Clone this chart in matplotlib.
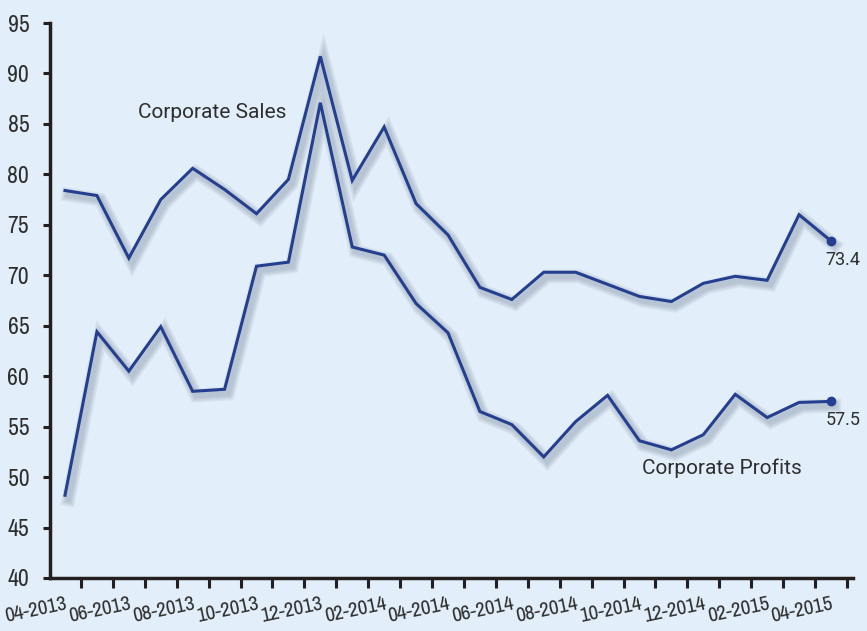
import matplotlib.pyplot as plt
import matplotlib.patheffects as pe
import matplotlib.font_manager as fm
import numpy as np

months = ['04-2013', '05-2013', '06-2013', '07-2013', '08-2013', '09-2013', '10-2013',
          '11-2013', '12-2013', '01-2014', '02-2014', '03-2014', '04-2014', '05-2014',
          '06-2014', '07-2014', '08-2014', '09-2014', '10-2014', '11-2014', '12-2014',
          '01-2015', '02-2015', '03-2015', '04-2015']
sales = [78.4, 77.9, 71.7, 77.5, 80.6, 78.5, 76.1, 79.5, 91.7, 79.4, 84.7, 77.1, 74.0,
         68.8, 67.6, 70.3, 70.3, 69.1, 67.9, 67.4, 69.2, 69.9, 69.5, 76.0, 73.4]
profits = [48.2, 64.4, 60.5, 64.9, 58.5, 58.7, 70.9, 71.3, 87.1, 72.8, 72.0, 67.2, 64.3,
           56.5, 55.2, 52.0, 55.5, 58.1, 53.6, 52.7, 54.2, 58.2, 55.9, 57.4, 57.5]
yticks = [40, 45, 50, 55, 60, 65, 70, 75, 80, 85, 90, 95]

bg = '#e2eef9'
navy = '#243f8f'
ink = '#231f20'
txt = '#2e2e2e'

# pick a narrow font for the axis labels, if one is installed
narrow = None
for f in fm.fontManager.ttflist:
    if 'Narrow' in f.name and f.weight in (400, 'normal', 'regular') and f.style == 'normal':
        narrow = f.fname
        break
if narrow is None:
    for f in fm.fontManager.ttflist:
        if 'Condensed' in f.fname and 'Bold' not in f.fname and 'Oblique' not in f.fname \
                and 'Sans' in f.name and 'Mono' not in f.name:
            narrow = f.fname
            break
tick_font = fm.FontProperties(fname=narrow) if narrow else fm.FontProperties(family='DejaVu Sans')

fig = plt.figure(figsize=(8.67, 6.31), dpi=100, facecolor=bg)
ax = fig.add_axes([50/867, 1-578/631, 803/867, 555/631], facecolor=bg)

x = np.arange(len(months))
shadow = [pe.SimpleLineShadow(offset=(2.5, -3), shadow_color='#40506a', alpha=0.07, linewidth=w)
          for w in (10, 8, 6, 4)] + [pe.Normal()]

for series in (sales, profits):
    ax.plot(x, series, color=navy, lw=2.2, solid_joinstyle='miter', path_effects=shadow, zorder=3)
    ax.plot(x[-1], series[-1], 'o', color=navy, ms=6, zorder=4)
    ax.annotate(f'{series[-1]:.1f}', (x[-1], series[-1]), xytext=(-4, -7), textcoords='offset points',
                ha='left', va='top', fontsize=13, color=txt, family='Roboto')

ax.text(4.6, 86.1, 'Corporate Sales', ha='center', va='center', fontsize=15, color=txt, family='Roboto')
ax.text(20.57, 50.9, 'Corporate Profits', ha='center', va='center', fontsize=15, color=txt, family='Roboto')

ax.set_xlim(-0.47, 24.69)
ax.set_ylim(40, 95)
ax.set_yticks(yticks)
ax.set_yticklabels([str(v) for v in yticks], color=txt)
ax.set_xticks(x[::2])
ax.set_xticklabels(months[::2], color=txt, rotation=12, ha='right', rotation_mode='anchor')
for lab in ax.get_yticklabels():
    lab.set_fontproperties(tick_font)
    lab.set_fontsize(17)
for lab in ax.get_xticklabels():
    lab.set_fontproperties(tick_font)
    lab.set_fontsize(15)
ax.set_xticks(x + 0.5, minor=True)
ax.tick_params(axis='x', which='major', length=0, pad=12)
ax.tick_params(axis='x', which='minor', length=7, width=2.2, color=ink, direction='out')
ax.tick_params(axis='y', length=5, width=2.2, color=ink, pad=10)

for s in ('top', 'right'):
    ax.spines[s].set_visible(False)
for s in ('left', 'bottom'):
    ax.spines[s].set_linewidth(2.5)
    ax.spines[s].set_color(ink)

fig.savefig('out.png', dpi=100, facecolor=bg)
